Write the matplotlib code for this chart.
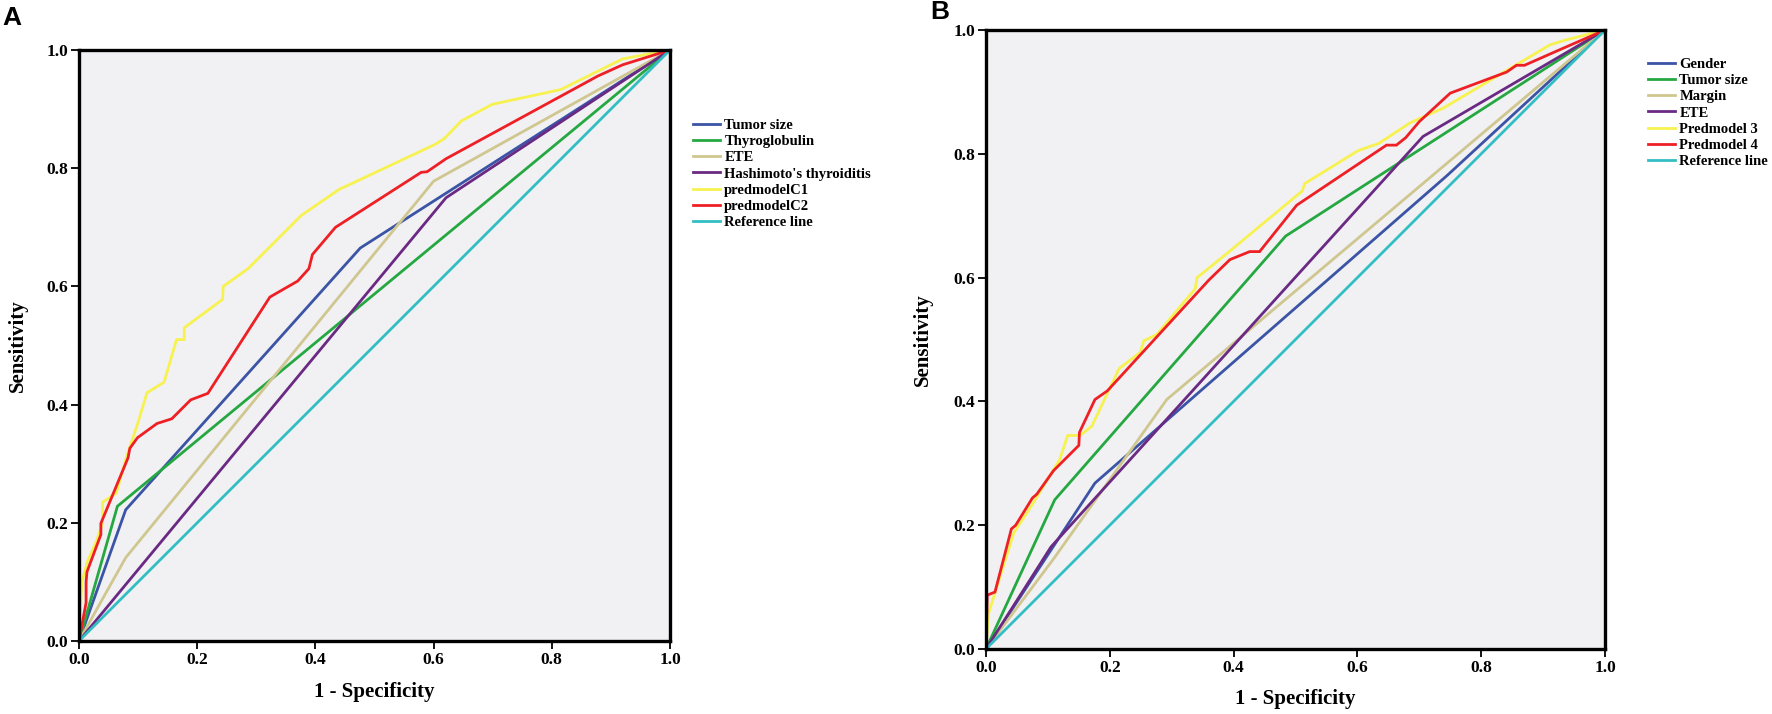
import matplotlib
matplotlib.use("Agg")
import matplotlib.pyplot as plt

plt.rcParams['font.family'] = ['Liberation Serif', 'DejaVu Serif']

# ---------------- Panel A data ----------------
a_tumor_x = [0, 0.079, 0.476, 1.0]
a_tumor_y = [0, 0.222, 0.665, 1.0]
a_thyro_x = [0, 0.065, 1.0]
a_thyro_y = [0, 0.228, 1.0]
a_ete_x = [0, 0.079, 0.60, 1.0]
a_ete_y = [0, 0.141, 0.778, 1.0]
a_hashi_x = [0, 0.621, 1.0]
a_hashi_y = [0, 0.750, 1.0]
a_c1_x = [0, 0.0045, 0.014, 0.03, 0.04, 0.04, 0.063, 0.08, 0.1, 0.115, 0.144, 0.165, 0.178, 0.178,
          0.243, 0.244, 0.286, 0.376, 0.44, 0.602, 0.618, 0.647, 0.699, 0.815, 0.92, 1.0]
a_c1_y = [0, 0.098, 0.134, 0.17, 0.2, 0.235, 0.25, 0.31, 0.37, 0.42, 0.438, 0.51, 0.51, 0.53,
          0.578, 0.60, 0.63, 0.72, 0.764, 0.84, 0.85, 0.88, 0.908, 0.933, 0.985, 1.0]
a_c2_x = [0, 0.012, 0.012, 0.0135, 0.037, 0.037, 0.083, 0.086, 0.099, 0.132, 0.157, 0.189, 0.218,
          0.323, 0.37, 0.389, 0.395, 0.434, 0.579, 0.589, 0.621, 0.878, 0.92, 1.0]
a_c2_y = [0, 0.065, 0.10, 0.117, 0.18, 0.199, 0.31, 0.326, 0.344, 0.368, 0.376, 0.408, 0.419,
          0.582, 0.609, 0.630, 0.654, 0.70, 0.793, 0.794, 0.816, 0.956, 0.975, 1.0]
a_labels = ['Tumor size', 'Thyroglobulin', 'ETE', "Hashimoto's thyroiditis",
            'predmodelC1', 'predmodelC2', 'Reference line']

# ---------------- Panel B data ----------------
b_gender_x = [0, 0.176, 0.745, 1.0]
b_gender_y = [0, 0.268, 0.765, 1.0]
b_tumor_x = [0, 0.111, 0.484, 1.0]
b_tumor_y = [0, 0.241, 0.667, 1.0]
b_margin_x = [0, 0.108, 0.292, 1.0]
b_margin_y = [0, 0.144, 0.403, 1.0]
b_ete_x = [0, 0.105, 0.706, 1.0]
b_ete_y = [0, 0.165, 0.828, 1.0]
b_p3_x = [0, 0.004, 0.045, 0.072, 0.119, 0.132, 0.152, 0.171, 0.215, 0.249, 0.255, 0.276, 0.301,
          0.338, 0.341, 0.388, 0.511, 0.515, 0.601, 0.635, 0.685, 0.739, 0.911, 0.937, 1.0]
b_p3_y = [0, 0.057, 0.188, 0.229, 0.306, 0.345, 0.345, 0.36, 0.453, 0.479, 0.498, 0.508, 0.538,
          0.582, 0.60, 0.638, 0.740, 0.752, 0.805, 0.817, 0.85, 0.874, 0.976, 0.984, 1.0]
b_p4_x = [0, 0.002, 0.0145, 0.041, 0.048, 0.075, 0.082, 0.109, 0.15, 0.151, 0.176, 0.196, 0.36,
          0.394, 0.426, 0.442, 0.502, 0.647, 0.663, 0.678, 0.70, 0.75, 0.841, 0.857, 0.87, 0.922, 1.0]
b_p4_y = [0, 0.087, 0.092, 0.194, 0.20, 0.244, 0.25, 0.288, 0.329, 0.35, 0.403, 0.417, 0.596,
          0.629, 0.642, 0.642, 0.717, 0.814, 0.814, 0.826, 0.852, 0.898, 0.932, 0.943, 0.943, 0.966, 1.0]
b_labels = ['Gender', 'Tumor size', 'Margin', 'ETE', 'Predmodel 3', 'Predmodel 4', 'Reference line']

ref_x = [0, 1]
ref_y = [0, 1]

C_BLUE = '#3B54A5'
C_GREEN = '#25A842'
C_TAN = '#CFC78F'
C_PURPLE = '#6A2A84'
C_YELLOW = '#F7F250'
C_RED = '#EE2025'
C_CYAN = '#33BEC3'

W, H = 1772, 714
fig = plt.figure(figsize=(W / 100, H / 100), dpi=100)

axA = fig.add_axes([79 / W, 1 - 641 / H, 591 / W, 591 / H])
axB = fig.add_axes([986 / W, 1 - 649 / H, 619 / W, 619 / H])

lw = 2.0
seriesA = [(a_tumor_x, a_tumor_y, C_BLUE), (a_thyro_x, a_thyro_y, C_GREEN),
           (a_ete_x, a_ete_y, C_TAN), (a_hashi_x, a_hashi_y, C_PURPLE),
           (a_c1_x, a_c1_y, C_YELLOW), (a_c2_x, a_c2_y, C_RED), (ref_x, ref_y, C_CYAN)]
seriesB = [(b_gender_x, b_gender_y, C_BLUE), (b_tumor_x, b_tumor_y, C_GREEN),
           (b_margin_x, b_margin_y, C_TAN), (b_ete_x, b_ete_y, C_PURPLE),
           (b_p3_x, b_p3_y, C_YELLOW), (b_p4_x, b_p4_y, C_RED), (ref_x, ref_y, C_CYAN)]

def style(ax, series, labels, ylab_x, xlab_y):
    handles = []
    for (x, y, c), lab in zip(series, labels):
        h, = ax.plot(x, y, color=c, lw=lw, label=lab, solid_joinstyle='miter')
        handles.append(h)
    ax.set_xlim(0, 1)
    ax.set_ylim(0, 1)
    ax.set_facecolor('#F1F1F3')
    for s in ax.spines.values():
        s.set_linewidth(2.4)
        s.set_color('black')
    ticks = [0.0, 0.2, 0.4, 0.6, 0.8, 1.0]
    ax.set_xticks(ticks)
    ax.set_yticks(ticks)
    ax.set_xticklabels([f'{t:.1f}' for t in ticks])
    ax.set_yticklabels([f'{t:.1f}' for t in ticks])
    ax.tick_params(direction='out', length=6, width=1.3, labelsize=12.5, pad=2)
    for lab in ax.get_xticklabels() + ax.get_yticklabels():
        lab.set_fontweight('bold')
    ax.set_ylabel('Sensitivity', fontsize=15, fontweight='bold')
    ax.set_xlabel('1 - Specificity', fontsize=15, fontweight='bold')
    ax.yaxis.set_label_coords(ylab_x, 0.5)
    ax.xaxis.set_label_coords(0.5, xlab_y)
    return handles

hA = style(axA, seriesA, a_labels, -0.086, -0.069)
hB = style(axB, seriesB, b_labels, -0.086, -0.064)

legkw = dict(frameon=False, handlelength=1.85, handletextpad=0.3,
             labelspacing=0.2, borderpad=0, borderaxespad=0,
             prop={'weight': 'bold', 'size': 10.5})
fig.legend(hA, a_labels, loc='upper left', bbox_to_anchor=(693 / W, 1 - 119 / H), **legkw)
fig.legend(hB, b_labels, loc='upper left', bbox_to_anchor=(1648 / W, 1 - 58 / H), **legkw)

fig.text(2 / W, 1 - 6 / H, 'A', fontsize=19, fontweight='bold', family='Liberation Sans',
         ha='left', va='top')
fig.text(930 / W, 1 - 0 / H, 'B', fontsize=19, fontweight='bold', family='Liberation Sans',
         ha='left', va='top')

fig.savefig('out.png', dpi=100)
